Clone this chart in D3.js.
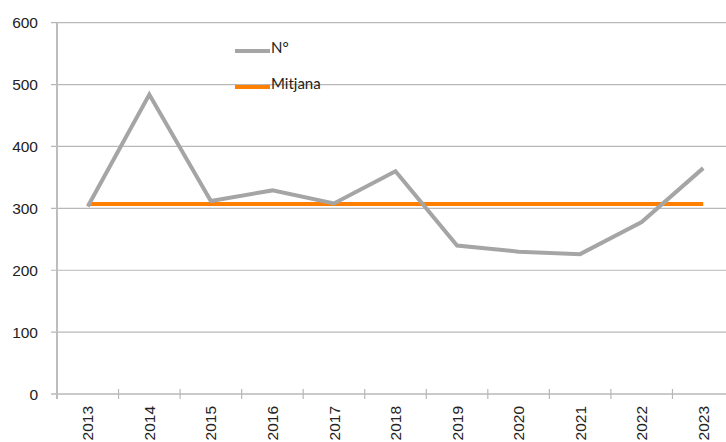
<!DOCTYPE html>
<html>
<head>
<meta charset="utf-8">
<script src="https://cdn.jsdelivr.net/npm/d3@7"></script>
<style>
  body { margin: 0; background: #fff; }
  svg { display: block; }
</style>
</head>
<body>
<script>
var years = ["2013","2014","2015","2016","2017","2018","2019","2020","2021","2022","2023"];
var counts = [303, 484, 312, 329, 308, 360, 240, 230, 226, 278, 365];
var mitjana = 307;
var yTicks = [0, 100, 200, 300, 400, 500, 600];

var width = 726, height = 442;
var plotLeft = 57, plotRight = 734, plotTop = 22.7, plotBottom = 394;

var svg = d3.select("body").append("svg")
    .attr("width", width).attr("height", height);

var x = d3.scaleBand().domain(years).range([plotLeft, plotRight]);
var y = d3.scaleLinear().domain([0, 600]).range([plotBottom, plotTop]);

// gridlines
svg.append("g").selectAll("line")
  .data(yTicks.filter(function(d) { return d > 0; }))
  .enter().append("line")
  .attr("x1", plotLeft - 6).attr("x2", width)
  .attr("y1", function(d) { return y(d); })
  .attr("y2", function(d) { return y(d); })
  .attr("stroke", "#b8b8b8").attr("stroke-width", 1.2);

// y labels
svg.append("g").selectAll("text")
  .data(yTicks)
  .enter().append("text")
  .attr("x", 38)
  .attr("y", function(d) { return y(d); })
  .attr("dy", "0.36em")
  .attr("text-anchor", "end")
  .attr("font-family", "Liberation Sans, Arial, sans-serif")
  .attr("font-size", 15.5)
  .attr("fill", "#222")
  .text(function(d) { return d; });

// x axis line + ticks
svg.append("line")
  .attr("x1", plotLeft - 6).attr("x2", width)
  .attr("y1", plotBottom).attr("y2", plotBottom)
  .attr("stroke", "#b8b8b8").attr("stroke-width", 1.5);

var tickXs = years.map(function(d) { return x(d); }).concat([x.range()[1]]);
svg.append("g").selectAll("line")
  .data(tickXs)
  .enter().append("line")
  .attr("x1", function(d) { return d; }).attr("x2", function(d) { return d; })
  .attr("y1", plotBottom - 5).attr("y2", plotBottom + 5)
  .attr("stroke", "#b8b8b8").attr("stroke-width", 1.2);

// y axis line
svg.append("line")
  .attr("x1", plotLeft).attr("x2", plotLeft)
  .attr("y1", plotTop).attr("y2", plotBottom + 5)
  .attr("stroke", "#bdbdbd").attr("stroke-width", 2);

// x labels
svg.append("g").selectAll("text")
  .data(years)
  .enter().append("text")
  .attr("transform", function(d) {
    return "translate(" + (x(d) + x.bandwidth() / 2) + "," + 406 + ") rotate(-90)";
  })
  .attr("dy", "0.36em")
  .attr("text-anchor", "end")
  .attr("font-family", "Liberation Sans, Arial, sans-serif")
  .attr("font-size", 15.5)
  .attr("fill", "#222")
  .text(function(d) { return d; });

var cx = function(d) { return x(d) + x.bandwidth() / 2; };

// mitjana line
svg.append("path")
  .datum(years)
  .attr("fill", "none")
  .attr("stroke", "#ff7f00")
  .attr("stroke-width", 4)
  .attr("d", d3.line().x(cx).y(function() { return y(mitjana); }));

// N° line
svg.append("path")
  .datum(years)
  .attr("fill", "none")
  .attr("stroke", "#a5a5a5")
  .attr("stroke-width", 4)
  .attr("stroke-linejoin", "miter")
  .attr("d", d3.line().x(cx).y(function(d, i) { return y(counts[i]); }));

// legend
var legend = [
  {label: "N°", color: "#a5a5a5", y: 51},
  {label: "Mitjana", color: "#ff7f00", y: 87}
];
var lg = svg.append("g").selectAll("g").data(legend).enter().append("g");
lg.append("line")
  .attr("x1", 235).attr("x2", 270)
  .attr("y1", function(d) { return d.y; }).attr("y2", function(d) { return d.y; })
  .attr("stroke", function(d) { return d.color; })
  .attr("stroke-width", 4);
lg.append("text")
  .attr("x", 271)
  .attr("y", function(d) { return d.y; })
  .attr("dy", "0.1em")
  .attr("font-family", "Lato, Open Sans, sans-serif")
  .attr("font-size", 15)
  .attr("fill", "#222")
  .text(function(d) { return d.label; });
</script>
</body>
</html>
